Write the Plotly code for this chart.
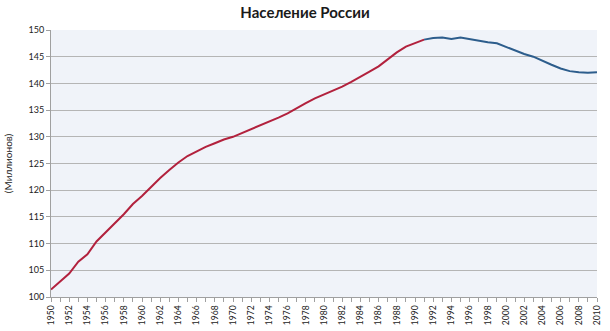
import plotly.graph_objects as go

years = list(range(1950, 2011))
population = [
    101.4, 102.9, 104.4, 106.6, 108.0, 110.4, 112.1, 113.8, 115.5, 117.4,
    118.9, 120.6, 122.3, 123.8, 125.2, 126.4, 127.3, 128.1, 128.8, 129.5,
    130.0, 130.7, 131.4, 132.2, 132.8, 133.6, 134.4, 135.4, 136.3, 137.2,
    137.9, 138.6, 139.4, 140.3, 141.2, 142.2, 143.2, 144.5, 145.8, 146.9,
    147.5, 148.2, 148.5, 148.6, 148.3, 148.6, 148.3, 147.9, 147.7, 147.5,
    146.8, 146.2, 145.5, 145.0, 144.2, 143.5, 142.8, 142.3, 142.1, 142.0,
    142.1,
]
split_year = 1991
tick_years = list(range(1950, 2011, 2))
tick_labels = [str(y) for y in tick_years]
y_ticks = list(range(100, 151, 5))

idx = years.index(split_year)

fig = go.Figure()
fig.add_trace(go.Scatter(x=years[:idx + 1], y=population[:idx + 1], mode="lines",
                         line=dict(color="#B2213D", width=2), hoverinfo="x+y"))
fig.add_trace(go.Scatter(x=years[idx:], y=population[idx:], mode="lines",
                         line=dict(color="#2D5D8C", width=2), hoverinfo="x+y"))

fig.update_layout(
    width=610, height=331,
    margin=dict(l=51, r=13, t=30, b=34, autoexpand=False),
    paper_bgcolor="white",
    plot_bgcolor="#F0F3F9",
    showlegend=False,
    title=dict(text="<b>Население России</b>", x=0.5, xanchor="center", y=0.961, yanchor="middle",
               font=dict(family="Lato, Open Sans, sans-serif", size=15, color="#1a1a1a")),
    font=dict(family="Lato, Open Sans, sans-serif", size=9, color="#222222"),
)
fig.update_xaxes(
    range=[1950, 2010], tickmode="array", tickvals=tick_years, ticktext=tick_labels,
    tickangle=-90, tickfont=dict(size=8.5), showgrid=False, zeroline=False,
    showline=True, linecolor="#A0A0A0", linewidth=1, automargin=False,
    ticks="outside", ticklen=4, tickcolor="#A0A0A0",
    minor=dict(dtick=1, ticks="outside", ticklen=4, tickcolor="#A0A0A0", showgrid=False),
)
fig.update_yaxes(
    range=[100, 150], tickmode="array", tickvals=y_ticks, automargin=False,
    tickfont=dict(size=9), showgrid=True, gridcolor="#B5B5B5", gridwidth=1,
    zeroline=False, showline=True, linecolor="#A0A0A0", linewidth=1,
    ticks="outside", ticklen=4, tickcolor="#A0A0A0",
    title=dict(text="(Миллионов)", font=dict(size=10), standoff=14),
)

fig.write_html("out.html")
